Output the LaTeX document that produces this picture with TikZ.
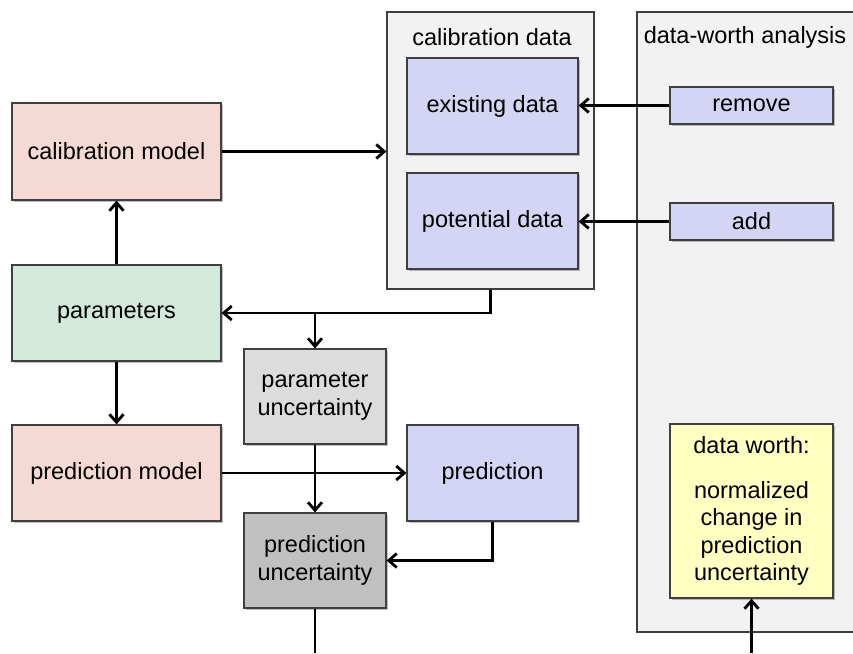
\documentclass[tikz,border=0pt]{standalone}
\usepackage{fontspec}
\setmainfont{Liberation Sans}
\usepackage{xcolor}
\usepackage{tikz}
\usetikzlibrary{positioning, calc, arrows.meta, shadows}

\definecolor{boxline}{HTML}{3F3F3F}
\definecolor{modelred}{HTML}{F5D9D5}
\definecolor{paramgreen}{HTML}{D3E9DB}
\definecolor{datablue}{HTML}{D4D4F4}
\definecolor{uncertlight}{HTML}{DCDCDC}
\definecolor{uncertdark}{HTML}{C0C0C0}
\definecolor{worthyellow}{HTML}{FFFFC2}
\definecolor{panelgray}{HTML}{F2F2F2}

\tikzset{
  box/.style={draw=boxline, line width=1.2pt, align=center, inner sep=2pt,
    font=\fontsize{23.5}{27.5}\selectfont,
    drop shadow={shadow xshift=1.5pt, shadow yshift=-1.5pt, fill=black, opacity=0.25}},
  panel/.style={draw=boxline, line width=1.2pt, fill=panelgray},
  title/.style={font=\fontsize{23.5}{27.5}\selectfont},
  link/.style={line width=2.8pt, -{Straight Barb[length=8pt,width=14pt]}},
  plain/.style={line width=2.8pt}
}

\begin{document}
\begin{tikzpicture}[x=1pt, y=-1pt]
  \clip (0,0) rectangle (853,653);
  \fill[white] (0,0) rectangle (853,653);

  % panels
  \node[panel, minimum width=207pt, minimum height=277pt] (caldata) at (490.5,150.5) {};
  \node[title] (caltitle) at (492,37) {calibration data};
  \node[panel, minimum width=240pt, minimum height=620pt] (dwpanel) at (757,322) {};
  \node[title] (dwtitle) at (745,37) {data-worth analysis};

  % left column
  \node[box, fill=modelred, minimum width=209pt, minimum height=97pt] (calmodel) at (116.5,151.5) {calibration model};
  \node[box, fill=paramgreen, minimum width=209pt, minimum height=96pt] (params) at (116.5,313) {parameters};
  \node[box, fill=modelred, minimum width=209pt, minimum height=96pt] (predmodel) at (116.5,473) {prediction model};

  % uncertainty
  \node[box, fill=uncertlight, minimum width=142pt, minimum height=95pt] (paruncert) at (315,396.5) {parameter\\uncertainty};
  \node[box, fill=uncertdark, minimum width=142pt, minimum height=95pt] (preduncert) at (315,560.5) {prediction\\uncertainty};

  % data
  \node[box, fill=datablue, minimum width=171pt, minimum height=96pt] (existing) at (492.5,106) {existing data};
  \node[box, fill=datablue, minimum width=171pt, minimum height=96pt] (potential) at (492.5,221) {potential data};
  \node[box, fill=datablue, minimum width=171pt, minimum height=96pt] (pred) at (492.5,473) {prediction};

  % data-worth analysis
  \node[box, fill=datablue, minimum width=163pt, minimum height=37pt] (remove) at (751.5,105.5) {remove};
  \node[box, fill=datablue, minimum width=163pt, minimum height=37pt] (add) at (751.5,221.5) {add};
  \node[box, fill=worthyellow, minimum width=163pt, minimum height=174pt] (worth) at (751.5,511) {data worth:\\[17pt]normalized\\change in\\prediction\\uncertainty};

  \coordinate (bottomout) at (315,653);
  \coordinate (bottomin) at (751.5,653);

  % connectors
  \draw[link] (calmodel.east) -- (calmodel.east -| caldata.west);
  \draw[link] (params) -- (calmodel);
  \draw[link] (params) -- (predmodel);
  \draw[link] (caldata.south) |- (params.east);
  \draw[link] (paruncert.north |- params.east) -- (paruncert.north);
  \draw[link] (paruncert) -- (preduncert);
  \draw[link] (predmodel) -- (pred);
  \draw[link] (pred.south) |- (preduncert.east);
  \draw[link] (remove.west) -- (remove.west -| existing.east);
  \draw[link] (add.west) -- (add.west -| potential.east);
  \draw[plain] (preduncert) -- (bottomout);
  \draw[link] (bottomin) -- (worth);
\end{tikzpicture}
\end{document}
